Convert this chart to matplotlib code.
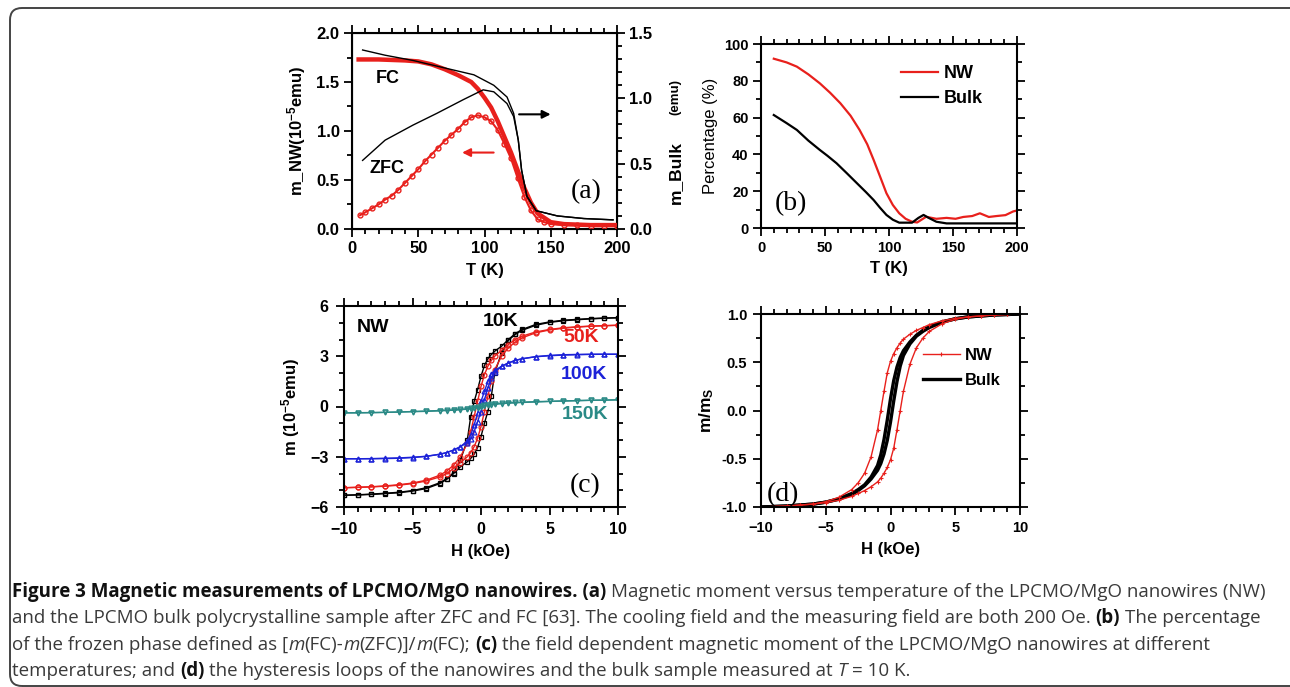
import matplotlib
matplotlib.use("Agg")
import matplotlib.pyplot as plt
from matplotlib.patches import FancyBboxPatch
from matplotlib.ticker import MultipleLocator, FormatStrFormatter

# ---- (a) m vs T, nanowires (left axis, 1e-5 emu) and bulk (right axis, emu)
T_nw_fc = [5, 20, 40, 50, 60, 70, 80, 90, 95, 100, 105, 110, 115, 120, 125, 130,
           135, 140, 150, 160, 180, 200]
m_nw_fc = [1.73, 1.73, 1.72, 1.71, 1.68, 1.63, 1.57, 1.50, 1.43, 1.34, 1.24, 1.10,
           0.94, 0.78, 0.60, 0.42, 0.27, 0.16, 0.07, 0.05, 0.04, 0.04]
T_nw_zfc = [6, 10, 15, 20, 25, 30, 35, 40, 45, 50, 55, 60, 65, 70, 75, 80, 85, 90,
            95, 100, 105, 110, 115, 120, 125, 130, 135, 140, 145, 150, 160, 170,
            180, 190, 200]
m_nw_zfc = [0.14, 0.17, 0.21, 0.25, 0.30, 0.34, 0.40, 0.47, 0.54, 0.61, 0.69, 0.76,
            0.83, 0.90, 0.96, 1.02, 1.09, 1.14, 1.16, 1.14, 1.10, 1.01, 0.87, 0.72,
            0.52, 0.33, 0.19, 0.10, 0.07, 0.05, 0.04, 0.04, 0.03, 0.03, 0.03]
T_bulk_fc = [8, 25, 46, 71, 92, 107, 117, 122, 125.5, 128, 132, 139, 155, 175, 197]
m_bulk_fc = [1.37, 1.33, 1.29, 1.23, 1.18, 1.10, 1.01, 0.885, 0.68, 0.45, 0.25,
             0.14, 0.10, 0.08, 0.07]
T_bulk_zfc = [8, 25, 46, 64, 84, 99, 107, 117, 122, 125.5, 128, 132, 139, 155, 175, 197]
m_bulk_zfc = [0.525, 0.68, 0.795, 0.885, 0.99, 1.065, 1.05, 0.96, 0.86, 0.68, 0.45,
              0.25, 0.14, 0.10, 0.08, 0.07]

# ---- (b) frozen phase percentage
T_pct_nw = [10, 20, 28, 37, 46, 54, 62, 70, 77, 83, 88, 93, 98, 103, 108, 113, 118,
            122, 129, 137, 145, 152, 158, 165, 171, 178, 184, 191, 197, 200]
pct_nw = [92, 90, 87.7, 83.5, 78.6, 73.5, 67.8, 61, 53.3, 45.5, 37, 28, 18.9, 12.5,
          8, 5, 3.4, 3, 6.1, 5, 5.5, 5, 6, 6.5, 8, 6, 6.5, 7, 9, 9.5]
T_pct_bulk = [10, 20, 28, 37, 46, 52, 59, 67, 75, 82, 88, 93, 98, 103, 108, 118, 123,
              127, 131, 137, 145, 160, 180, 200]
pct_bulk = [61.4, 57, 53.3, 47.5, 42.4, 39.2, 35.2, 29.8, 24.3, 19.5, 15.2, 11, 7.1,
            4.5, 2.9, 2.9, 5.5, 7.1, 5.5, 3.4, 2.5, 2.5, 2.5, 2.5]

# ---- (c) hysteresis loops of NW (1e-5 emu); up = sweep -10 -> 10 kOe
H_up = [-10, -9, -8, -7, -6, -5, -4, -3, -2.5, -2, -1.5, -1, -0.75, -0.5, -0.25, 0,
        0.25, 0.5, 0.75, 1, 1.5, 2, 2.5, 3, 4, 5, 6, 7, 8, 9, 10]
H_down = H_up[::-1]
m10_up = [-5.30, -5.28, -5.25, -5.20, -5.15, -5.05, -4.90, -4.60, -4.35, -4.00, -3.60,
          -3.30, -3.10, -2.85, -2.45, -1.80, -1.00, -0.30, 0.60, 2.00, 3.20, 3.95,
          4.30, 4.55, 4.85, 5.02, 5.12, 5.18, 5.23, 5.27, 5.30]
m10_down = [5.30, 5.28, 5.25, 5.20, 5.15, 5.05, 4.90, 4.60, 4.35, 4.00, 3.60, 3.30,
            3.10, 2.85, 2.45, 1.80, 1.00, 0.30, -0.60, -2.00, -3.20, -3.95, -4.30,
            -4.55, -4.85, -5.02, -5.12, -5.18, -5.23, -5.27, -5.30]
m50_up = [-4.85, -4.83, -4.80, -4.76, -4.70, -4.60, -4.45, -4.20, -4.00, -3.70, -3.35,
          -3.00, -2.75, -2.40, -1.90, -1.20, -0.30, 0.60, 1.50, 2.20, 3.00, 3.50,
          3.85, 4.10, 4.40, 4.57, 4.67, 4.74, 4.79, 4.82, 4.85]
m50_down = [4.85, 4.83, 4.80, 4.76, 4.70, 4.60, 4.45, 4.20, 4.00, 3.70, 3.35, 3.00,
            2.75, 2.40, 1.90, 1.20, 0.30, -0.60, -1.50, -2.20, -3.00, -3.50, -3.85,
            -4.10, -4.40, -4.57, -4.67, -4.74, -4.79, -4.82, -4.85]
m100_up = [-3.12, -3.12, -3.12, -3.11, -3.09, -3.05, -2.98, -2.85, -2.75, -2.60, -2.40,
           -2.15, -1.95, -1.50, -0.90, -0.30, 0.40, 1.10, 1.70, 2.05, 2.40, 2.60,
           2.75, 2.85, 2.97, 3.03, 3.07, 3.09, 3.11, 3.12, 3.12]
m100_down = [3.12, 3.12, 3.12, 3.11, 3.09, 3.05, 2.98, 2.85, 2.75, 2.60, 2.40, 2.15,
             1.95, 1.50, 0.90, 0.30, -0.40, -1.10, -1.70, -2.05, -2.40, -2.60, -2.75,
             -2.85, -2.97, -3.03, -3.07, -3.09, -3.11, -3.12, -3.12]
m150_up = [-0.38, -0.37, -0.36, -0.35, -0.33, -0.31, -0.29, -0.26, -0.24, -0.22, -0.19,
           -0.16, -0.13, -0.10, -0.06, -0.02, 0.03, 0.07, 0.10, 0.13, 0.17, 0.20,
           0.22, 0.24, 0.27, 0.30, 0.33, 0.35, 0.37, 0.38, 0.40]
m150_down = [0.40, 0.38, 0.37, 0.35, 0.33, 0.31, 0.29, 0.26, 0.24, 0.22, 0.19, 0.16,
             0.13, 0.10, 0.06, 0.02, -0.03, -0.07, -0.10, -0.13, -0.17, -0.20, -0.22,
             -0.24, -0.27, -0.30, -0.33, -0.35, -0.37, -0.38, -0.38]

# ---- (d) normalised loops at 10 K
mn_nw_up = [-1.0, -0.995, -0.99, -0.98, -0.97, -0.955, -0.93, -0.89, -0.86, -0.83,
            -0.79, -0.74, -0.70, -0.65, -0.59, -0.51, -0.39, -0.20, 0.0, 0.20, 0.48,
            0.65, 0.75, 0.82, 0.90, 0.945, 0.97, 0.98, 0.99, 0.995, 1.0]
mn_nw_down = [1.0, 0.995, 0.99, 0.98, 0.97, 0.955, 0.93, 0.89, 0.86, 0.83, 0.79, 0.74,
              0.70, 0.65, 0.59, 0.51, 0.39, 0.20, 0.0, -0.20, -0.48, -0.65, -0.75,
              -0.82, -0.90, -0.945, -0.97, -0.98, -0.99, -0.995, -1.0]
mn_bulk_up = [-1.0, -0.995, -0.99, -0.98, -0.97, -0.95, -0.92, -0.87, -0.83, -0.78,
              -0.71, -0.62, -0.55, -0.45, -0.31, -0.12, 0.10, 0.30, 0.46, 0.57, 0.69,
              0.77, 0.82, 0.86, 0.915, 0.95, 0.97, 0.98, 0.99, 0.995, 1.0]
mn_bulk_down = [1.0, 0.995, 0.99, 0.98, 0.97, 0.95, 0.92, 0.87, 0.83, 0.78, 0.71,
                0.62, 0.55, 0.45, 0.31, 0.12, -0.10, -0.30, -0.46, -0.57, -0.69,
                -0.77, -0.82, -0.86, -0.915, -0.95, -0.97, -0.98, -0.99, -0.995, -1.0]

RED = '#e8201c'
BLUE = '#1c22d8'
TEAL = '#2a8a86'

plt.rcParams['font.family'] = ['Liberation Sans', 'DejaVu Sans']
plt.rcParams['font.weight'] = 'bold'
plt.rcParams['axes.labelweight'] = 'bold'
plt.rcParams['mathtext.fontset'] = 'custom'
plt.rcParams['mathtext.rm'] = 'Liberation Sans:bold'
plt.rcParams['mathtext.it'] = 'Liberation Sans:bold'
plt.rcParams['mathtext.bf'] = 'Liberation Sans:bold'

W, H = 1290, 687
fig = plt.figure(figsize=(W / 100, H / 100), dpi=100)

# rounded frame around the whole figure
frame = FancyBboxPatch((0.10, 0.01), 12.95, 6.78, boxstyle="round,pad=0,rounding_size=0.12",
                       transform=fig.dpi_scale_trans, fill=False, edgecolor='#444444',
                       linewidth=1.4)
fig.patches.append(frame)


def axes_px(l, t, r, b):
    return fig.add_axes([l / W, 1 - b / H, (r - l) / W, (b - t) / H])


def style(ax, fs, xminor, yminor, right=True, pad=3):
    for s in ax.spines.values():
        s.set_linewidth(1.5)
    ax.xaxis.set_minor_locator(MultipleLocator(xminor))
    ax.yaxis.set_minor_locator(MultipleLocator(yminor))
    ax.tick_params(which='both', direction='out', top=True, right=right, width=1.3,
                   labelsize=fs, pad=pad)
    ax.tick_params(which='major', length=6)
    ax.tick_params(which='minor', length=3.5)


def panel_label(ax, x, y, s):
    ax.text(x, y, s, family='Liberation Serif', fontweight='normal', fontsize=20,
            ha='center', va='center')


# ---------------- (a)
ax = axes_px(352, 33, 617, 229)
ax.plot(T_nw_fc, m_nw_fc, color=RED, lw=3.2, zorder=3)
ax.plot(T_nw_zfc, m_nw_zfc, color=RED, lw=1.5, marker='o', ms=3.5, mfc='none',
        mew=1, zorder=3)
ax.set_xlim(0, 200)
ax.set_ylim(0, 2.0)
ax.set_xticks([0, 50, 100, 150, 200])
ax.set_yticks([0, 0.5, 1.0, 1.5, 2.0])
ax.yaxis.set_major_formatter(FormatStrFormatter('%.1f'))
style(ax, 12, 10, 0.25, right=False)
ax.set_xlabel('T (K)', fontsize=12, labelpad=5)
ax.set_ylabel('m_NW(10$^{-5}$emu)', fontsize=12, labelpad=6)
ax.annotate('', xy=(152, 1.17), xytext=(124, 1.17),
            arrowprops=dict(arrowstyle='-|>', color='black', lw=1.5, mutation_scale=12))
ax.annotate('', xy=(81, 0.78), xytext=(109, 0.78),
            arrowprops=dict(arrowstyle='-|>', color=RED, lw=1.5, mutation_scale=12))
ax.text(18, 1.54, 'FC', fontsize=13, va='center')
ax.text(13, 0.62, 'ZFC', fontsize=13, va='center')
panel_label(ax, 177, 0.38, '(a)')

ax2 = ax.twinx()
ax2.plot(T_bulk_fc, m_bulk_fc, color='black', lw=1)
ax2.plot(T_bulk_zfc, m_bulk_zfc, color='black', lw=1)
ax2.set_ylim(0, 1.5)
ax2.set_yticks([0, 0.5, 1.0, 1.5])
ax2.yaxis.set_major_formatter(FormatStrFormatter('%.1f'))
ax2.yaxis.set_minor_locator(MultipleLocator(0.1))
ax2.tick_params(which='both', direction='out', width=1.3, labelsize=12, pad=3)
ax2.tick_params(which='major', length=6)
ax2.tick_params(which='minor', length=3.5)
fig.text(675 / W, 1 - 172 / H, 'm_Bulk', rotation=90, fontsize=12.5, ha='center', va='center')
fig.text(675 / W, 1 - 97 / H, '(emu)', rotation=90, fontsize=9.5, ha='center', va='center')

# ---------------- (b)
bx = axes_px(761, 44, 1017, 228)
bx.plot(T_pct_nw, pct_nw, color=RED, lw=1.6, label='NW')
bx.plot(T_pct_bulk, pct_bulk, color='black', lw=1.6, label='Bulk')
bx.set_xlim(0, 200)
bx.set_ylim(0, 100)
bx.set_xticks([0, 50, 100, 150, 200])
bx.set_yticks([0, 20, 40, 60, 80, 100])
style(bx, 10.5, 10, 10)
bx.set_xlabel('T (K)', fontsize=12, labelpad=5)
bx.set_ylabel('Percentage (%)', fontsize=12, fontweight='normal', labelpad=4)
bx.legend(loc='upper left', bbox_to_anchor=(0.545, 0.885), frameon=False, fontsize=13,
          handlelength=2.1, handletextpad=0.3, labelspacing=0.45, borderaxespad=0,
          borderpad=0)
panel_label(bx, 23, 13, '(b)')

# ---------------- (c)
cx = axes_px(344, 306, 618, 507)
loops = [(m10_up, m10_down, 'black', 's'), (m50_up, m50_down, RED, 'o'),
         (m100_up, m100_down, BLUE, '^'), (m150_up, m150_down, TEAL, 'v')]
for up, down, col, mk in loops:
    cx.plot(H_up, up, color=col, lw=1, marker=mk, ms=3.5, mfc='none', mew=0.9)
    cx.plot(H_down, down, color=col, lw=1, marker=mk, ms=3.5, mfc='none', mew=0.9)
cx.set_xlim(-10, 10)
cx.set_ylim(-6, 6)
cx.set_xticks([-10, -5, 0, 5, 10])
cx.set_yticks([-6, -3, 0, 3, 6])
style(cx, 11.5, 1, 1, pad=5)
cx.set_xlabel('H (kOe)', fontsize=12, labelpad=5)
cx.set_ylabel('m (10$^{-5}$emu)', fontsize=12, labelpad=6)
cx.text(-9.1, 4.7, 'NW', fontsize=14, va='center')
cx.text(0.1, 5.1, '10K', fontsize=14, va='center')
cx.text(6.0, 4.1, '50K', fontsize=14, va='center', color=RED)
cx.text(5.8, 1.9, '100K', fontsize=14, va='center', color=BLUE)
cx.text(5.9, -0.45, '150K', fontsize=14, va='center', color=TEAL)
panel_label(cx, 7.6, -4.7, '(c)')

# ---------------- (d)
dx = axes_px(761, 314, 1020, 507)
dx.plot(H_up, mn_bulk_up, color='black', lw=2.4)
dx.plot(H_down, mn_bulk_down, color='black', lw=2.4, label='Bulk')
dx.plot(H_up, mn_nw_up, color=RED, lw=1, marker='+', ms=3, mew=0.8)
dx.plot(H_down, mn_nw_down, color=RED, lw=1, marker='+', ms=3, mew=0.8, label='NW')
dx.set_xlim(-10, 10)
dx.set_ylim(-1, 1)
dx.set_xticks([-10, -5, 0, 5, 10])
dx.set_yticks([-1, -0.5, 0, 0.5, 1])
dx.yaxis.set_major_formatter(FormatStrFormatter('%.1f'))
style(dx, 10.5, 1, 0.25, pad=4)
dx.set_xlabel('H (kOe)', fontsize=12, labelpad=5)
dx.set_ylabel('m/m$_S$', fontsize=12.5, labelpad=4)
h, l = dx.get_legend_handles_labels()
dx.legend(h[::-1], l[::-1], loc='upper left', bbox_to_anchor=(0.6, 0.86), frameon=False,
          fontsize=12, handlelength=2.2, handletextpad=0.3, labelspacing=0.6,
          borderaxespad=0)
panel_label(dx, -8.3, -0.87, '(d)')

# ---------------- caption
FS = 13.5
renderer = fig.canvas.get_renderer()


def caption_line(y, pieces):
    x = 12
    for txt, kind in pieces:
        kw = dict(family='Open Sans', fontsize=FS, va='baseline', ha='left',
                  color='#3a3a3a', fontweight='normal')
        if kind == 'b':
            kw.update(fontweight='bold', color='#111111')
        if kind == 'i':
            kw.update(fontstyle='italic')
        core = txt.rstrip(' ')
        t = fig.text(x / W, 1 - y / H, core, **kw)
        x += t.get_window_extent(renderer).width + (len(txt) - len(core)) * 0.26 * FS * 100 / 72


caption_line(597, [("Figure 3 Magnetic measurements of LPCMO/MgO nanowires. (a) ", 'b'),
                   ("Magnetic moment versus temperature of the LPCMO/MgO nanowires (NW)", 'r')])
caption_line(623, [("and the LPCMO bulk polycrystalline sample after ZFC and FC [63]. "
                    "The cooling field and the measuring field are both 200 Oe. ", 'r'),
                   ("(b) ", 'b'), ("The percentage", 'r')])
caption_line(650, [("of the frozen phase defined as [", 'r'), ("m", 'i'), ("(FC)-", 'r'),
                   ("m", 'i'), ("(ZFC)]/", 'r'), ("m", 'i'), ("(FC); ", 'r'), ("(c) ", 'b'),
                   ("the field dependent magnetic moment of the LPCMO/MgO nanowires at different", 'r')])
caption_line(676, [("temperatures; and ", 'r'), ("(d) ", 'b'),
                   ("the hysteresis loops of the nanowires and the bulk sample measured at ", 'r'),
                   ("T ", 'i'), ("= 10 K.", 'r')])

fig.savefig('out.png', dpi=100)
